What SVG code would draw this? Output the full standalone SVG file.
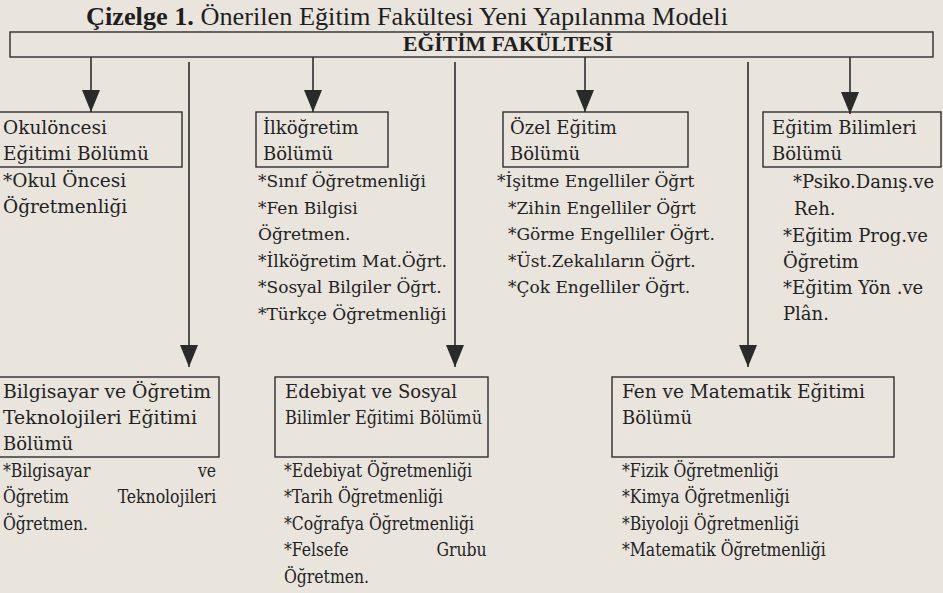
<svg xmlns="http://www.w3.org/2000/svg" width="943" height="593" viewBox="0 0 943 593">
<style>
.bg{fill:#e9e5dd}
.box{fill:none;stroke:#2e2e2e;stroke-width:1.4}
.t{font-family:"DejaVu Serif","Liberation Serif",serif;font-size:17px;fill:#222}
.h{font-size:18px}
.o{font-size:18.5px}
.title{font-family:"Liberation Serif",serif;font-size:25px;fill:#1e1e1e}
.head{font-family:"Liberation Serif",serif;font-size:21px;font-weight:bold;fill:#1e1e1e}
.conn{stroke:#2e2e2e;stroke-width:1.6;fill:none}
</style>
<defs>
<marker id="ah" viewBox="0 0 22 18" refX="22" refY="9" markerWidth="22" markerHeight="18" markerUnits="userSpaceOnUse" orient="auto">
<path d="M0,0 L22,9 L0,18 Z" fill="#2a2a2a"/>
</marker>
</defs>
<rect class="bg" x="0" y="0" width="943" height="593"/>
<text class="title" x="86" y="25" textLength="642" lengthAdjust="spacingAndGlyphs"><tspan font-weight="bold">Çizelge 1.</tspan> Önerilen Eğitim Fakültesi Yeni Yapılanma Modeli</text>

<g id="connectors">
<path class="conn" d="M91,57 V112" marker-end="url(#ah)"/>
<path class="conn" d="M313,57 V112" marker-end="url(#ah)"/>
<path class="conn" d="M585,57 V112" marker-end="url(#ah)"/>
<path class="conn" d="M850,57 V114" marker-end="url(#ah)"/>
<path class="conn" d="M189,62 V367" marker-end="url(#ah)"/>
<path class="conn" d="M455,62 V367" marker-end="url(#ah)"/>
<path class="conn" d="M748,62 V367" marker-end="url(#ah)"/>
</g>

<g id="fakulte">
<rect class="box" x="10" y="32" width="923" height="25"/>
<text class="head" x="508" y="51" text-anchor="middle" textLength="210" lengthAdjust="spacingAndGlyphs">EĞİTİM FAKÜLTESİ</text>
</g>

<g id="okuloncesi">
<rect class="box" x="-2" y="112" width="184" height="55"/>
<text class="t o" x="3" y="134">Okulöncesi</text>
<text class="t o" x="3" y="160">Eğitimi Bölümü</text>
<text class="t o" x="3" y="187">*Okul Öncesi</text>
<text class="t o" x="3" y="213">Öğretmenliği</text>
</g>

<g id="ilkogretim">
<rect class="box" x="256" y="112" width="132" height="55"/>
<text class="t h" x="263" y="134">İlköğretim</text>
<text class="t h" x="263" y="160">Bölümü</text>
<text class="t" x="258" y="187">*Sınıf Öğretmenliği</text>
<text class="t" x="258" y="213.5">*Fen Bilgisi</text>
<text class="t" x="258" y="240">Öğretmen.</text>
<text class="t" x="258" y="267">*İlköğretim Mat.Öğrt.</text>
<text class="t" x="258" y="293">*Sosyal Bilgiler Öğrt.</text>
<text class="t" x="258" y="320">*Türkçe Öğretmenliği</text>
</g>

<g id="ozel-egitim">
<rect class="box" x="503" y="112" width="185" height="55"/>
<text class="t h" x="510" y="134">Özel Eğitim</text>
<text class="t h" x="510" y="160">Bölümü</text>
<text class="t" x="497" y="187">*İşitme Engelliler Öğrt</text>
<text class="t" x="508" y="213.5">*Zihin Engelliler Öğrt</text>
<text class="t" x="508" y="240">*Görme Engelliler Öğrt.</text>
<text class="t" x="508" y="267">*Üst.Zekalıların Öğrt.</text>
<text class="t" x="508" y="293">*Çok Engelliler Öğrt.</text>
</g>

<g id="egitim-bilimleri">
<rect class="box" x="763" y="112" width="178" height="55"/>
<text class="t h" x="772" y="134">Eğitim Bilimleri</text>
<text class="t h" x="772" y="160">Bölümü</text>
<text class="t h" x="793" y="188">*Psiko.Danış.ve</text>
<text class="t h" x="794" y="215">Reh.</text>
<text class="t h" x="783" y="242">*Eğitim Prog.ve</text>
<text class="t h" x="783" y="268">Öğretim</text>
<text class="t h" x="783" y="294">*Eğitim Yön .ve</text>
<text class="t h" x="783" y="320">Plân.</text>
</g>

<g id="bilgisayar">
<rect class="box" x="-2" y="377" width="221" height="80"/>
<text class="t h" x="3" y="398" textLength="208" lengthAdjust="spacingAndGlyphs">Bilgisayar ve Öğretim</text>
<text class="t h" x="3" y="424" textLength="194" lengthAdjust="spacingAndGlyphs">Teknolojileri Eğitimi</text>
<text class="t h" x="3" y="450">Bölümü</text>
<g transform="translate(3,0) scale(0.87,1)">
<text class="t h" x="0" y="477">*Bilgisayar <tspan x="245" text-anchor="end">ve</tspan></text>
<text class="t h" x="0" y="503">Öğretim <tspan x="245" text-anchor="end">Teknolojileri</tspan></text>
<text class="t h" x="0" y="530">Öğretmen.</text>
</g>
</g>

<g id="edebiyat">
<rect class="box" x="275" y="377" width="213" height="80"/>
<text class="t h" x="285" y="398">Edebiyat ve Sosyal</text>
<text class="t h" x="285" y="424" textLength="197" lengthAdjust="spacingAndGlyphs">Bilimler Eğitimi Bölümü</text>
<g transform="translate(284,0) scale(0.87,1)">
<text class="t h" x="0" y="477">*Edebiyat Öğretmenliği</text>
<text class="t h" x="0" y="503">*Tarih Öğretmenliği</text>
<text class="t h" x="0" y="530">*Coğrafya Öğretmenliği</text>
<text class="t h" x="0" y="556">*Felsefe <tspan x="233" text-anchor="end">Grubu</tspan></text>
<text class="t h" x="0" y="583">Öğretmen.</text>
</g>
</g>

<g id="fen-matematik">
<rect class="box" x="612" y="377" width="282" height="80"/>
<text class="t h" x="622" y="398" textLength="243" lengthAdjust="spacingAndGlyphs">Fen ve Matematik Eğitimi</text>
<text class="t h" x="622" y="424">Bölümü</text>
<g transform="translate(622,0) scale(0.87,1)">
<text class="t h" x="0" y="477">*Fizik Öğretmenliği</text>
<text class="t h" x="0" y="503">*Kimya Öğretmenliği</text>
<text class="t h" x="0" y="530">*Biyoloji Öğretmenliği</text>
<text class="t h" x="0" y="556">*Matematik Öğretmenliği</text>
</g>
</g>
</svg>
